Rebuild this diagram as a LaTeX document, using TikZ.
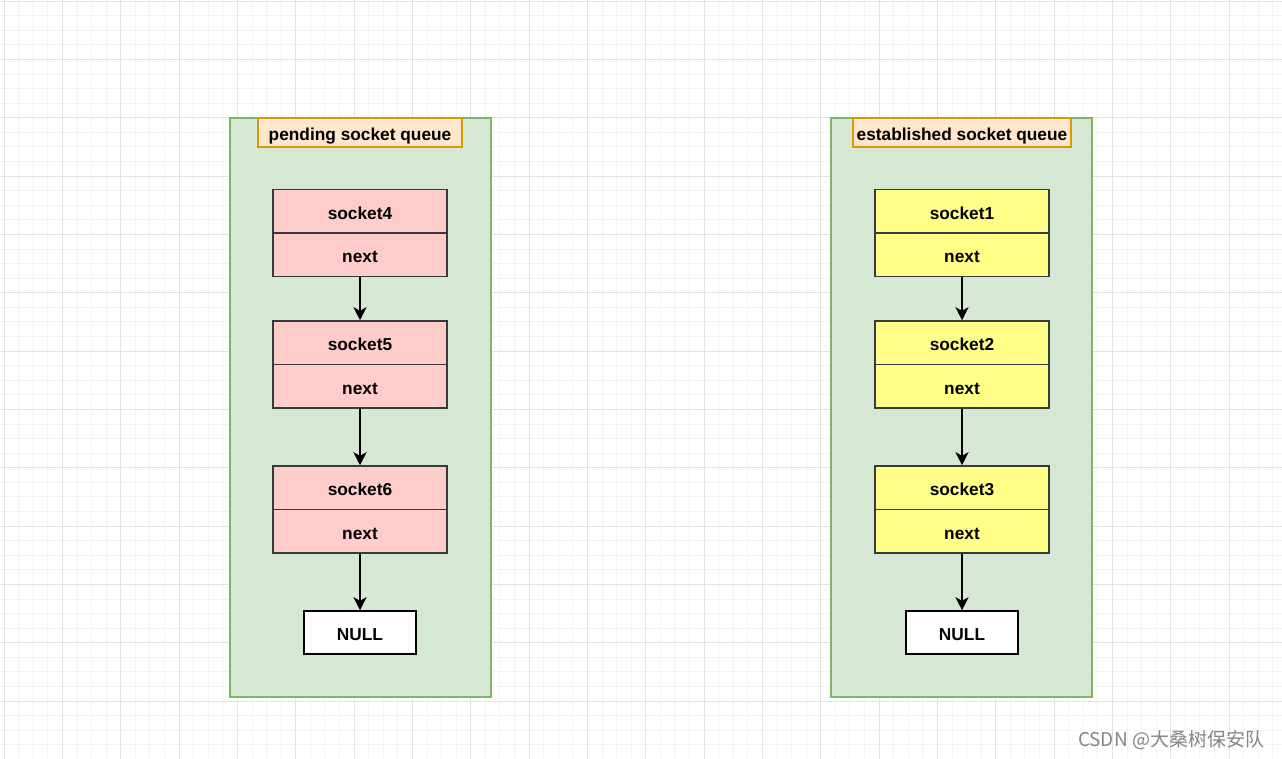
\documentclass[tikz,border=0pt]{standalone}
\usepackage{fontspec}
\setmainfont{Liberation Sans}
\newfontfamily\cjk{Noto Sans CJK SC}
\usetikzlibrary{arrows.meta}
\definecolor{gridmin}{HTML}{F3F3F3}
\definecolor{gridmaj}{HTML}{E2E2E2}
\definecolor{queuefill}{HTML}{D5E8D4}
\definecolor{queuedraw}{HTML}{82B366}
\definecolor{titlefill}{HTML}{FFE6CC}
\definecolor{titledraw}{HTML}{D79B00}
\definecolor{pendfill}{HTML}{FFCCCC}
\definecolor{estfill}{HTML}{FFFF88}
\definecolor{celldraw}{HTML}{36393D}
\begin{document}
\begin{tikzpicture}[font=\fontsize{17.3bp}{20bp}\selectfont\bfseries,
  queue/.style={draw=queuedraw,fill=queuefill,line width=1.2bp,minimum width=261bp,minimum height=579bp,inner sep=0pt},
  qtitle/.style={draw=titledraw,fill=titlefill,line width=1.2bp,minimum height=29bp,inner sep=0pt,text height=16bp,text depth=0bp},
  cell/.style={draw=celldraw,line width=1.5bp,minimum width=174bp,minimum height=43.5bp,inner sep=0pt,text height=16bp,text depth=0bp},
  nullbox/.style={draw,fill=white,line width=1.5bp,minimum width=112bp,minimum height=43bp,inner sep=0pt,text height=16bp,text depth=0bp},
  link/.style={-{Stealth[length=13bp,width=13bp,inset=3.5bp]},line width=1.5bp}]
  \useasboundingbox [fill=white] (0bp,0bp) rectangle (1282bp,759bp);
  % grid
  \begin{scope}[shift={(4bp,758bp)}]
    \draw [gridmin,line width=0.8bp,step=14.583bp] (-4bp,-758bp) grid (1278bp,1bp);
    \draw [gridmaj,line width=0.8bp,step=58.333bp] (-4bp,-758bp) grid (1278bp,1bp);
  \end{scope}
  % pending queue
  \node (pend) at (360.5bp,351.5bp) [queue] {};
  \node (pendT) at (360bp,626.5bp) [qtitle,minimum width=204bp] {pending socket queue};
  \node (S4) at (360bp,547.5bp) [cell,fill=pendfill] {socket4};
  \node (N4) at (360bp,504bp) [cell,fill=pendfill] {next};
  \node (S5) at (360bp,416.25bp) [cell,fill=pendfill] {socket5};
  \node (N5) at (360bp,372.75bp) [cell,fill=pendfill] {next};
  \node (S6) at (360bp,271.25bp) [cell,fill=pendfill] {socket6};
  \node (N6) at (360bp,227.75bp) [cell,fill=pendfill] {next};
  \node (NullP) at (360bp,126.5bp) [nullbox] {NULL};
  % established queue
  \node (est) at (961.5bp,351.5bp) [queue] {};
  \node (estT) at (962bp,626.5bp) [qtitle,minimum width=218bp] {established socket queue};
  \node (S1) at (962bp,547.5bp) [cell,fill=estfill] {socket1};
  \node (N1) at (962bp,504bp) [cell,fill=estfill] {next};
  \node (S2) at (962bp,416.25bp) [cell,fill=estfill] {socket2};
  \node (N2) at (962bp,372.75bp) [cell,fill=estfill] {next};
  \node (S3) at (962bp,271.25bp) [cell,fill=estfill] {socket3};
  \node (N3) at (962bp,227.75bp) [cell,fill=estfill] {next};
  \node (NullE) at (962bp,126.5bp) [nullbox] {NULL};
  \draw [link] (N4) -- (S5);
  \draw [link] (N5) -- (S6);
  \draw [link] (N6) -- (NullP);
  \draw [link] (N1) -- (S2);
  \draw [link] (N2) -- (S3);
  \draw [link] (N3) -- (NullE);
  \node (mark) at (1171bp,19bp) [text=black!48,font=\cjk\fontsize{19bp}{22bp}\selectfont] {CSDN @大桑树保安队};
\end{tikzpicture}
\end{document}
